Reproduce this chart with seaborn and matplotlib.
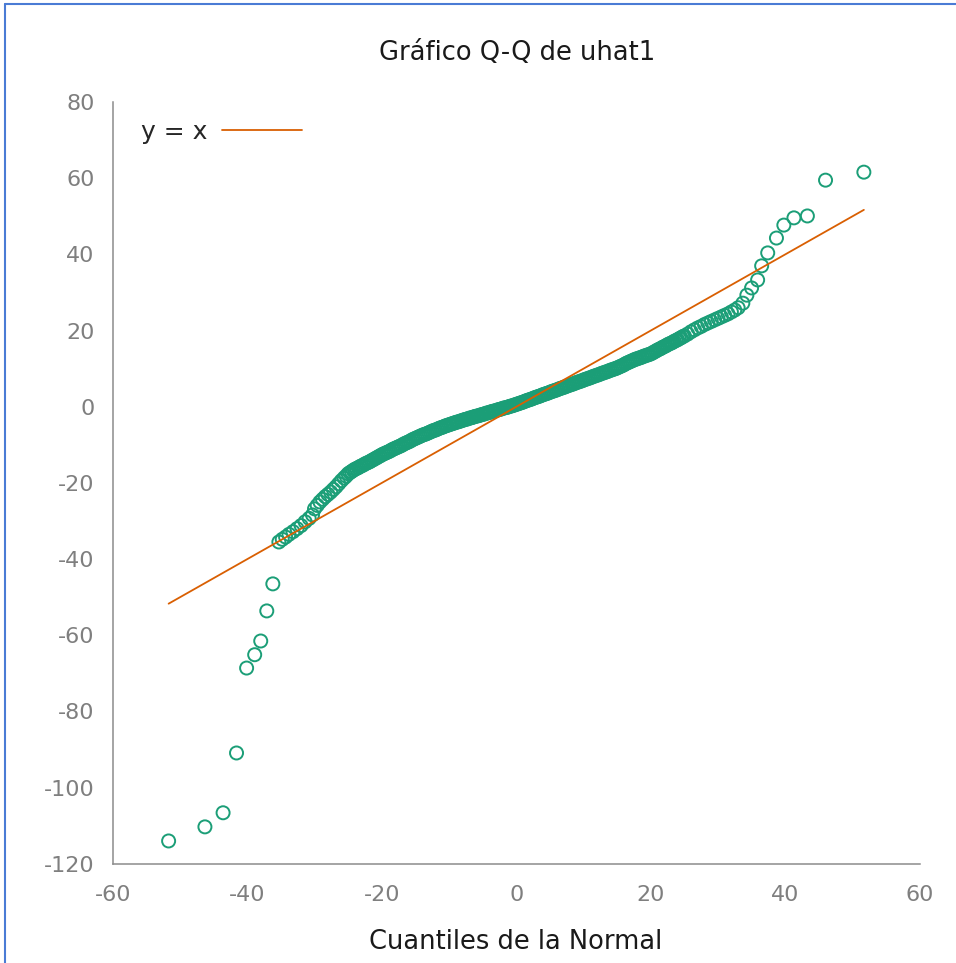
import matplotlib
matplotlib.use("Agg")
import matplotlib.pyplot as plt
from matplotlib.lines import Line2D
import seaborn as sns
import pandas as pd

# Q-Q points (x = normal quantile, y = uhat1 quantile)
low_x = [-51.7, -46.3, -43.6, -41.6, -40.1, -38.9, -38.0, -37.1, -36.2]
low_y = [-114.0, -110.3, -106.6, -90.9, -68.6, -65.1, -61.5, -53.6, -46.5]

cluster_x = [-35.3, -34.8, -34.3, -33.8, -33.2, -32.6, -32.0, -31.4, -30.8, -30.3]
cluster_y = [-35.5, -34.8, -34.2, -33.5, -32.8, -32.0, -31.2, -30.2, -29.3, -28.4]

tail_l_x = [-30.0, -29.6, -29.2, -28.8, -28.4, -28.0, -27.6, -27.2, -26.8, -26.4, -26.0, -25.6, -25.3]
tail_l_y = [-26.8, -25.9, -25.0, -24.3, -23.6, -23.0, -22.4, -21.7, -21.0, -20.2, -19.4, -18.7, -18.2]

band_x = [
    -25.0, -24.75, -24.5, -24.25, -24.0, -23.75, -23.5, -23.25, -23.0, -22.75,
    -22.5, -22.25, -22.0, -21.75, -21.5, -21.25, -21.0, -20.75, -20.5, -20.25,
    -20.0, -19.75, -19.5, -19.25, -19.0, -18.75, -18.5, -18.25, -18.0, -17.75,
    -17.5, -17.25, -17.0, -16.75, -16.5, -16.25, -16.0, -15.75, -15.5, -15.25,
    -15.0, -14.75, -14.5, -14.25, -14.0, -13.75, -13.5, -13.25, -13.0, -12.75,
    -12.5, -12.25, -12.0, -11.75, -11.5, -11.25, -11.0, -10.75, -10.5, -10.25,
    -10.0, -9.75, -9.5, -9.25, -9.0, -8.75, -8.5, -8.25, -8.0, -7.75,
    -7.5, -7.25, -7.0, -6.75, -6.5, -6.25, -6.0, -5.75, -5.5, -5.25,
    -5.0, -4.75, -4.5, -4.25, -4.0, -3.75, -3.5, -3.25, -3.0, -2.75,
    -2.5, -2.25, -2.0, -1.75, -1.5, -1.25, -1.0, -0.75, -0.5, -0.25,
    0.0, 0.25, 0.5, 0.75, 1.0, 1.25, 1.5, 1.75, 2.0, 2.25,
    2.5, 2.75, 3.0, 3.25, 3.5, 3.75, 4.0, 4.25, 4.5, 4.75,
    5.0, 5.25, 5.5, 5.75, 6.0, 6.25, 6.5, 6.75, 7.0, 7.25,
    7.5, 7.75, 8.0, 8.25, 8.5, 8.75, 9.0, 9.25, 9.5, 9.75,
    10.0, 10.25, 10.5, 10.75, 11.0, 11.25, 11.5, 11.75, 12.0, 12.25,
    12.5, 12.75, 13.0, 13.25, 13.5, 13.75, 14.0, 14.25, 14.5, 14.75,
    15.0, 15.25, 15.5, 15.75, 16.0, 16.25, 16.5, 16.75, 17.0, 17.25,
    17.5, 17.75, 18.0, 18.25, 18.5, 18.75, 19.0, 19.25, 19.5, 19.75,
    20.0, 20.25, 20.5, 20.75, 21.0, 21.25, 21.5, 21.75, 22.0, 22.25,
    22.5, 22.75, 23.0, 23.25, 23.5, 23.75, 24.0, 24.25, 24.5, 24.75, 25.0,
]
band_y = [
    -17.6, -17.3, -17.0, -16.7, -16.4, -16.2, -16.0, -15.7, -15.5, -15.3,
    -15.0, -14.8, -14.6, -14.4, -14.1, -13.9, -13.6, -13.4, -13.1, -12.9,
    -12.6, -12.4, -12.2, -12.0, -11.8, -11.6, -11.3, -11.1, -10.9, -10.7,
    -10.5, -10.3, -10.1, -9.8, -9.6, -9.4, -9.2, -9.0, -8.7, -8.5,
    -8.3, -8.1, -7.9, -7.7, -7.5, -7.3, -7.2, -7.0, -6.8, -6.6,
    -6.4, -6.2, -6.1, -5.9, -5.7, -5.5, -5.4, -5.2, -5.0, -4.9,
    -4.7, -4.6, -4.4, -4.3, -4.1, -4.0, -3.9, -3.7, -3.6, -3.4,
    -3.3, -3.2, -3.0, -2.9, -2.8, -2.6, -2.5, -2.4, -2.3, -2.1,
    -2.0, -1.9, -1.7, -1.6, -1.5, -1.3, -1.2, -1.1, -1.0, -0.8,
    -0.7, -0.6, -0.4, -0.3, -0.2, -0.1, 0.1, 0.2, 0.3, 0.5,
    0.6, 0.8, 0.9, 1.1, 1.2, 1.4, 1.6, 1.7, 1.9, 2.0,
    2.2, 2.4, 2.5, 2.7, 2.8, 3.0, 3.2, 3.3, 3.5, 3.6,
    3.8, 4.0, 4.1, 4.3, 4.4, 4.6, 4.8, 4.9, 5.1, 5.2,
    5.4, 5.6, 5.7, 5.9, 6.0, 6.2, 6.4, 6.5, 6.7, 6.8,
    7.0, 7.2, 7.3, 7.5, 7.6, 7.8, 8.0, 8.1, 8.3, 8.4,
    8.6, 8.8, 8.9, 9.1, 9.2, 9.4, 9.6, 9.7, 9.9, 10.0,
    10.2, 10.4, 10.6, 10.8, 11.0, 11.3, 11.5, 11.7, 11.9, 12.1,
    12.3, 12.5, 12.6, 12.8, 12.9, 13.1, 13.3, 13.4, 13.6, 13.7,
    13.9, 14.1, 14.4, 14.6, 14.9, 15.1, 15.3, 15.6, 15.8, 16.0,
    16.3, 16.5, 16.7, 16.9, 17.2, 17.4, 17.6, 17.9, 18.1, 18.4, 18.6,
]

tail_r_x = [25.5, 26.0, 26.5, 27.0, 27.5, 28.0, 28.5, 29.0, 29.5, 30.0, 30.5, 31.0, 31.5, 32.0, 32.5, 33.0]
tail_r_y = [19.1, 19.7, 20.2, 20.7, 21.1, 21.6, 22.0, 22.4, 22.8, 23.2, 23.6, 24.0, 24.4, 24.9, 25.4, 26.0]

high_x = [33.7, 34.3, 35.0, 35.9, 36.5, 37.4, 38.7, 39.8, 41.3, 43.3, 46.0, 51.7]
high_y = [27.2, 29.3, 31.2, 33.3, 37.0, 40.4, 44.3, 47.7, 49.6, 50.1, 59.5, 61.6]

normal_q = low_x + cluster_x + tail_l_x + band_x + tail_r_x + high_x
uhat1 = low_y + cluster_y + tail_l_y + band_y + tail_r_y + high_y

df = pd.DataFrame({"q": normal_q, "uhat1": uhat1})
ref = pd.DataFrame({"x": [min(normal_q), max(normal_q)]})
ref["y"] = ref["x"]

green = "#1b9e77"
orange = "#d95f02"
axis_gray = "#8c8c8c"
label_gray = "#7f7f7f"

sns.set_style("white")
plt.rcParams["font.family"] = ["DejaVu Sans"]
plt.rcParams["axes.unicode_minus"] = False

fig = plt.figure(figsize=(9.56, 9.63), dpi=100)
ax = fig.add_axes([0.118, 0.103, 0.844, 0.791])

sns.scatterplot(data=df, x="q", y="uhat1", ax=ax, marker="o", s=88,
                facecolor="none", edgecolor=green, linewidth=1.4, zorder=2)
sns.lineplot(data=ref, x="x", y="y", ax=ax, color=orange, linewidth=1.3,
             label="y = x", zorder=3)

ax.set_xlim(-60, 60)
ax.set_ylim(-120, 80)
ax.set_xticks(range(-60, 61, 20))
ax.set_yticks(range(-120, 81, 20))
ax.set_xlabel("")
ax.set_ylabel("")

for side in ["top", "right"]:
    ax.spines[side].set_visible(False)
for side in ["left", "bottom"]:
    ax.spines[side].set_color(axis_gray)
    ax.spines[side].set_linewidth(1.1)

ax.tick_params(direction="in", length=8.6, width=1.1, color=axis_gray,
               labelcolor=label_gray, labelsize=16)
ax.tick_params(axis="x", pad=15)
ax.tick_params(axis="y", pad=13)

ax.legend(loc="upper left", bbox_to_anchor=(0.022, 0.99), borderaxespad=0,
          frameon=False, markerfirst=False, handlelength=3.2,
          handletextpad=0.6, fontsize=18)

fig.text(0.541, 0.945, "Gráfico Q-Q de uhat1", ha="center", va="center",
         fontsize=18.5, color="#1a1a1a")
fig.text(0.539, 0.022, "Cuantiles de la Normal", ha="center", va="center",
         fontsize=18.5, color="#1a1a1a")

# blue frame of the screenshot
fig.add_artist(Line2D([5 / 956, 5 / 956], [0, 1 - 4 / 963],
                      transform=fig.transFigure, color="#4a7bd5", lw=1.5))
fig.add_artist(Line2D([5 / 956, 1], [1 - 4 / 963, 1 - 4 / 963],
                      transform=fig.transFigure, color="#4a7bd5", lw=1.5))

fig.savefig("out.png", dpi=100)
